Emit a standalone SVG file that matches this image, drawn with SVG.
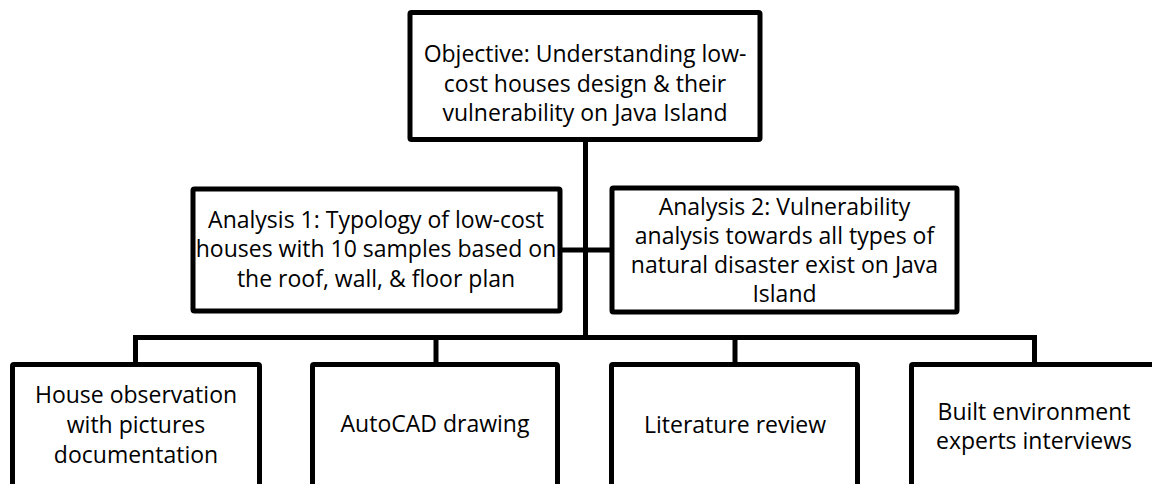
<svg xmlns="http://www.w3.org/2000/svg" width="1152" height="484" viewBox="0 0 1152 484">
<style>
.box{fill:#fff;stroke:#000;stroke-width:5;stroke-linejoin:round}
.con{fill:none;stroke:#000;stroke-width:5}
text{font-family:"Open Sans",sans-serif;font-size:23px;fill:#000;text-anchor:middle}
</style>
<rect width="1152" height="484" fill="#fff"/>
<g id="connectors">
<path class="con" d="M585.5 139V337.5"/>
<path class="con" d="M560 250H612"/>
<path class="con" d="M135.5 364V337.5H1034.5V364"/>
<path class="con" d="M436 337.5V364"/>
<path class="con" d="M735 337.5V364"/>
</g>
<g id="objective">
<rect class="box" x="410" y="12.5" width="350" height="127" rx="1.5"/>
<text x="585" y="62">Objective: Understanding low-</text>
<text x="585" y="92">cost houses design &amp; their</text>
<text x="585" y="121">vulnerability on Java Island</text>
</g>
<g id="analysis1">
<rect class="box" x="193" y="189" width="367" height="122" rx="1.5"/>
<text x="376" y="228">Analysis 1: Typology of low-cost</text>
<text x="376" y="257">houses with 10 samples based on</text>
<text x="376" y="287">the roof, wall, &amp; floor plan</text>
</g>
<g id="analysis2">
<rect class="box" x="612" y="188" width="345" height="124" rx="1.5"/>
<text x="784.5" y="215">Analysis 2: Vulnerability</text>
<text x="784.5" y="244">analysis towards all types of</text>
<text x="784.5" y="273">natural disaster exist on Java</text>
<text x="784.5" y="302">Island</text>
</g>
<g id="house-observation">
<rect class="box" x="12.5" y="364.5" width="247" height="130" rx="1.5"/>
<text x="136" y="403">House observation</text>
<text x="136" y="433">with pictures</text>
<text x="136" y="463">documentation</text>
</g>
<g id="autocad">
<rect class="box" x="312.5" y="364.5" width="245" height="130" rx="1.5"/>
<text x="435" y="432">AutoCAD drawing</text>
</g>
<g id="literature">
<rect class="box" x="611.5" y="364.5" width="246" height="130" rx="1.5"/>
<text x="735" y="433">Literature review</text>
</g>
<g id="experts">
<rect class="box" x="911.5" y="364.5" width="247" height="130" rx="1.5"/>
<text x="1034" y="420">Built environment</text>
<text x="1034" y="449">experts interviews</text>
</g>
</svg>
